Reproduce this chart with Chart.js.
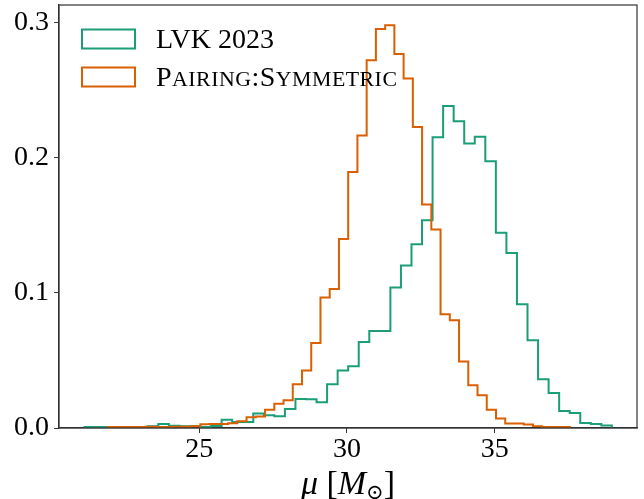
<!DOCTYPE html>
<html>
<head>
<meta charset="utf-8">
<script src="https://cdn.jsdelivr.net/npm/chart.js@4/dist/chart.umd.min.js"></script>
<style>
  html, body { margin: 0; padding: 0; background: #fff; }
  #c { display: block; }
</style>
</head>
<body>
<canvas id="c" width="644" height="499"></canvas>
<script>
// ---- data ----
const seriesLabels = ['LVK 2023', 'Pairing:Symmetric'];
const seriesColors = ['#1b9e77', '#d95f02'];

// bin ranges (50 bins each)
const lvkRange = [21.113, 38.97];
const pairingRange = [21.909, 37.548];
const binCount = 50;

// density per bin
const lvkValues = [
  0.0007, 0.0007, 0.0007, 0.0003, 0.0003, 0.0003, 0.0013, 0.0030, 0.0016, 0.0013,
  0.0013, 0.0007, 0.0015, 0.0062, 0.0045, 0.0045, 0.0107, 0.0094, 0.0087, 0.0141,
  0.0215, 0.0213, 0.0190, 0.0324, 0.0425, 0.0457, 0.0637, 0.0719, 0.0719, 0.1040,
  0.1203, 0.1361, 0.1538, 0.2153, 0.2385, 0.2272, 0.2107, 0.2158, 0.1976, 0.1447,
  0.1296, 0.0916, 0.0650, 0.0361, 0.0259, 0.0126, 0.0111, 0.0037, 0.0030, 0.0018
];
const pairingValues = [
  0.0007, 0.0007, 0.0007, 0.0007, 0.0010, 0.0007, 0.0007, 0.0010, 0.0010, 0.0013,
  0.0027, 0.0030, 0.0030, 0.0035, 0.0050, 0.0080, 0.0085, 0.0136, 0.0180, 0.0205,
  0.0324, 0.0425, 0.0630, 0.0966, 0.1030, 0.1400, 0.1897, 0.2166, 0.2724, 0.2956,
  0.2983, 0.2770, 0.2588, 0.2230, 0.1655, 0.1470, 0.0842, 0.0798, 0.0492, 0.0316,
  0.0242, 0.0136, 0.0070, 0.0033, 0.0033, 0.0025, 0.0013, 0.0007, 0.0007, 0.0007
];

const xTicks = [25, 30, 35];
const yTicks = [0.0, 0.1, 0.2, 0.3];
const xLimits = [20.25, 39.82];
const yLimits = [0, 0.3133];
// x title pieces: [text, italic, subscript]
const xTitleParts = [['μ', true, false], [' [', false, false], ['M', true, false], ['⊙', false, true], [']', false, false]];

// ---- build step outlines ----
function stepPoints(range, values) {
  const w = (range[1] - range[0]) / binCount;
  const pts = [{ x: range[0], y: 0 }];
  values.forEach((v, i) => pts.push({ x: range[0] + i * w, y: v }));
  pts.push({ x: range[1], y: 0 });
  return pts;
}

const serif = '"Liberation Serif", "DejaVu Serif", serif';
const FS = 28;
const TITLE_FS = 34;

function drawSmallCaps(ctx, text, x, y, size) {
  const small = size * 0.78;
  const spacing = 0.5;
  let cx = x;
  for (const ch of text) {
    const isLower = /[a-z]/.test(ch);
    ctx.font = (isLower ? small : size) + 'px ' + serif;
    const g = isLower ? ch.toUpperCase() : ch;
    ctx.fillText(g, cx, y);
    cx += ctx.measureText(g).width + spacing;
  }
}

const framePlugin = {
  id: 'frame',
  afterDatasetsDraw(chart) {
    const { ctx, chartArea: a } = chart;
    ctx.save();
    ctx.strokeStyle = '#333';
    ctx.lineWidth = 1.2;
    ctx.strokeRect(a.left, a.top, a.right - a.left, a.bottom - a.top);
    ctx.restore();
  }
};

const legendPlugin = {
  id: 'insideLegend',
  afterDraw(chart) {
    const { ctx } = chart;
    ctx.save();
    const boxX = 82, boxW = 53, boxH = 19;
    const rows = [39, 77];
    chart.data.datasets.forEach((ds, i) => {
      const cy = rows[i];
      ctx.strokeStyle = ds.borderColor;
      ctx.lineWidth = 2;
      ctx.strokeRect(boxX, cy - boxH / 2, boxW, boxH);
      ctx.fillStyle = '#000';
      ctx.textBaseline = 'alphabetic';
      ctx.textAlign = 'left';
      if (i === 1) {
        drawSmallCaps(ctx, ds.label, 156, cy + 9, FS);
      } else {
        ctx.font = FS + 'px ' + serif;
        ctx.fillText(ds.label, 156, cy + 9);
      }
    });
    ctx.restore();
  }
};

const xTitlePlugin = {
  id: 'xTitle',
  afterDraw(chart) {
    const { ctx, chartArea: a } = chart;
    ctx.save();
    ctx.fillStyle = '#000';
    ctx.textBaseline = 'alphabetic';
    ctx.textAlign = 'left';
    const fontFor = (p) => (p[1] ? 'italic ' : '') + (p[2] ? TITLE_FS * 0.62 : TITLE_FS) + 'px ' + serif;
    let total = 0;
    xTitleParts.forEach(p => { ctx.font = fontFor(p); total += ctx.measureText(p[0]).width; });
    let x = (a.left + a.right) / 2 - total / 2;
    const base = 494;
    xTitleParts.forEach(p => {
      ctx.font = fontFor(p);
      ctx.fillText(p[0], x, p[2] ? base + 5 : base);
      x += ctx.measureText(p[0]).width;
    });
    ctx.restore();
  }
};

new Chart(document.getElementById('c'), {
  type: 'line',
  data: {
    datasets: [
      {
        label: seriesLabels[0],
        data: stepPoints(lvkRange, lvkValues),
        borderColor: seriesColors[0],
        borderWidth: 2,
        stepped: true,
        pointRadius: 0,
        fill: false,
        order: 1
      },
      {
        label: seriesLabels[1],
        data: stepPoints(pairingRange, pairingValues),
        borderColor: seriesColors[1],
        borderWidth: 2,
        stepped: true,
        pointRadius: 0,
        fill: false,
        order: 0
      }
    ]
  },
  options: {
    responsive: false,
    devicePixelRatio: 1,
    animation: false,
    layout: { padding: { top: 5, right: 7, left: 0, bottom: 0 } },
    plugins: {
      legend: { display: false },
      tooltip: { enabled: false }
    },
    scales: {
      x: {
        type: 'linear',
        min: xLimits[0],
        max: xLimits[1],
        afterBuildTicks: (s) => { s.ticks = xTicks.map(v => ({ value: v })); },
        afterFit: (s) => { s.height = 71; s.paddingLeft = 0; s.paddingRight = 0; },
        grid: { display: true, drawOnChartArea: false, drawTicks: true, tickLength: 5, tickWidth: 1, tickColor: '#333' },
        border: { display: true, color: '#333', width: 1.2 },
        ticks: {
          color: '#000',
          font: { family: serif, size: FS },
          padding: 0,
          maxRotation: 0,
          callback: (v) => String(v)
        },
        title: { display: false }
      },
      y: {
        type: 'linear',
        min: yLimits[0],
        max: yLimits[1],
        afterBuildTicks: (s) => { s.ticks = yTicks.map(v => ({ value: v })); },
        afterFit: (s) => { s.width = 59; s.paddingTop = 0; s.paddingBottom = 0; },
        grid: { display: true, drawOnChartArea: false, drawTicks: true, tickLength: 5, tickWidth: 1, tickColor: '#333' },
        border: { display: true, color: '#333', width: 1.2 },
        ticks: {
          color: '#000',
          font: { family: serif, size: FS },
          padding: 5,
          callback: (v) => Number(v).toFixed(1)
        }
      }
    }
  },
  plugins: [framePlugin, legendPlugin, xTitlePlugin]
});
</script>
</body>
</html>
